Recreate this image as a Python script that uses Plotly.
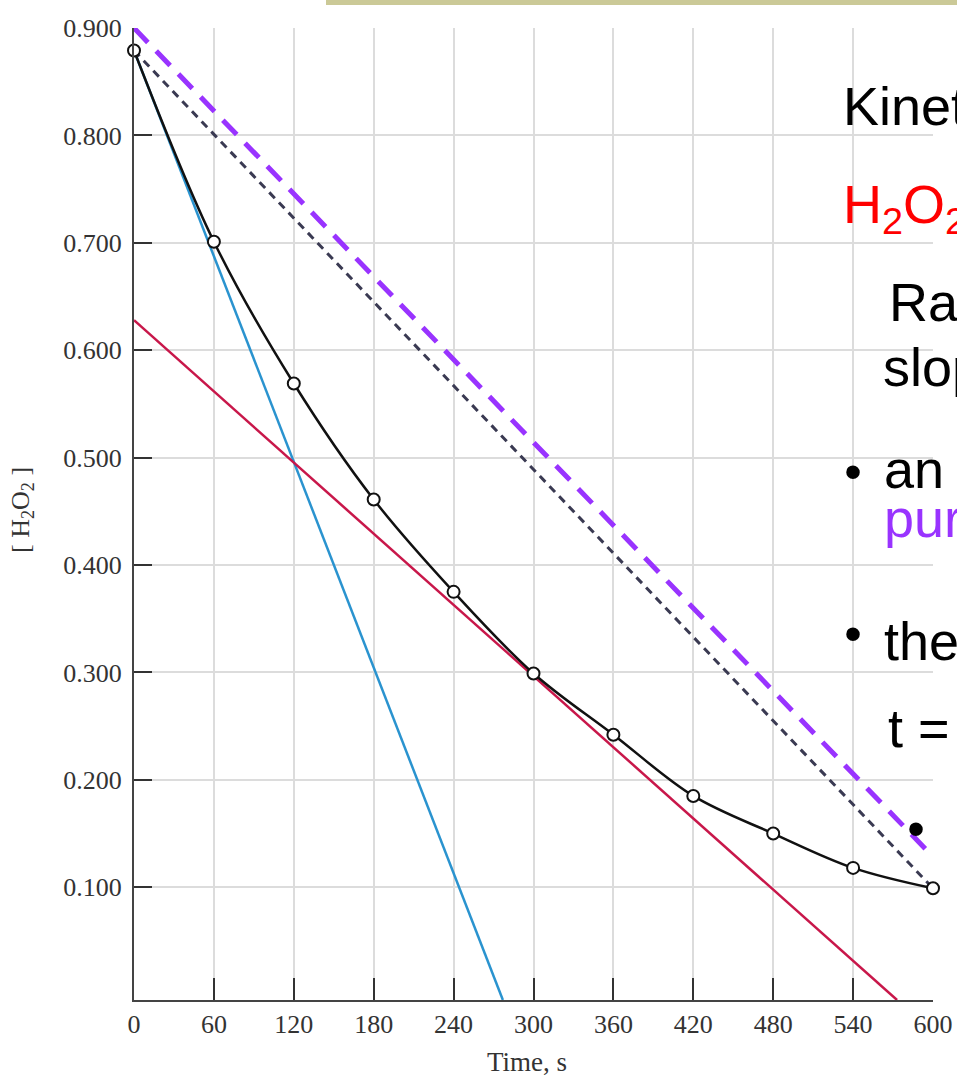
import plotly.graph_objects as go

# ---- data ----
time_s = [0, 60, 120, 180, 240, 300, 360, 420, 480, 540, 600]
conc_h2o2 = [0.879, 0.701, 0.569, 0.461, 0.375, 0.299, 0.242, 0.185, 0.150, 0.118, 0.099]

tan0_t = [0, 277]          # tangent at t = 0 (blue)
tan0_c = [0.879, -0.005]
tan300_t = [0, 573]        # tangent at t = 300 s (red)
tan300_c = [0.628, -0.005]
avg_t = [0, 600]           # average-rate chord (dark dashed)
avg_c = [0.879, 0.099]
purple_t = [0, 598]        # parallel purple dashed line
purple_c = [0.900, 0.131]

x_ticks = [0, 60, 120, 180, 240, 300, 360, 420, 480, 540, 600]
y_ticks = [0.1, 0.2, 0.3, 0.4, 0.5, 0.6, 0.7, 0.8, 0.9]
y_tick_text = ["0.100", "0.200", "0.300", "0.400", "0.500", "0.600", "0.700", "0.800", "0.900"]

# slide text (cropped at the right edge of the picture)
slide_text = ["Kinetics", "H<sub>2</sub>O<sub>2</sub>", "Rate", "slope", "an", "purple", "the", "t ="]
slide_colors = ["black", "#ff0000", "black", "black", "black", "#9933ff", "black", "black"]

W, H = 957, 1078
PL, PR, PT, PB = 134, 933, 28, 1000   # plot area in pixels

fig = go.Figure()
fig.add_trace(go.Scatter(x=tan0_t, y=tan0_c, mode="lines",
                         line=dict(color="#2a93cf", width=2.5), hoverinfo="skip"))
fig.add_trace(go.Scatter(x=tan300_t, y=tan300_c, mode="lines",
                         line=dict(color="#c8174a", width=2.5), hoverinfo="skip"))
fig.add_trace(go.Scatter(x=avg_t, y=avg_c, mode="lines",
                         line=dict(color="#3a3a52", width=3, dash="8px,6px"), hoverinfo="skip"))
fig.add_trace(go.Scatter(x=purple_t, y=purple_c, mode="lines",
                         line=dict(color="#9933ff", width=5, dash="20px,12px"), hoverinfo="skip"))
fig.add_trace(go.Scatter(x=time_s, y=conc_h2o2, mode="lines+markers",
                         line=dict(color="#111111", width=2.5, shape="spline", smoothing=1.0),
                         marker=dict(size=12, color="white", line=dict(color="#111111", width=2)),
                         cliponaxis=False))

# overlay "page" axes in pixel units for the slide text
text_x = [843, 843, 889, 883, 884, 884, 884, 888]
text_y = [111, 209, 307, 372, 474, 523, 646, 733]
for txt, x, y, col in zip(slide_text, text_x, text_y, slide_colors):
    fig.add_trace(go.Scatter(x=[x], y=[y], mode="text", text=[txt],
                             textposition="middle right",
                             textfont=dict(family="Liberation Sans", size=54, color=col),
                             xaxis="x2", yaxis="y2", hoverinfo="skip", cliponaxis=True))
fig.add_trace(go.Scatter(x=[853, 853, 916], y=[476, 638, 833], mode="text", text=["•", "•", "•"],
                         textposition="middle center",
                         textfont=dict(family="Liberation Sans", size=50, color="black"),
                         xaxis="x2", yaxis="y2", hoverinfo="skip", cliponaxis=True))

axis_font = dict(family="Liberation Serif", size=26, color="#333333")
fig.update_layout(
    xaxis=dict(domain=[PL / W, PR / W], range=[0, 600], tickvals=x_ticks,
               ticktext=[str(v) for v in x_ticks],
               ticks="inside", ticklen=22, tickwidth=2, tickcolor="#333333",
               showline=True, linecolor="#444444", linewidth=2,
               showgrid=True, gridcolor="#dcdcdc", gridwidth=1.5,
               zeroline=False, tickfont=axis_font, ticklabelstandoff=0,
               automargin=False, anchor="y"),
    yaxis=dict(domain=[(H - PB) / H, (H - PT) / H], range=[-0.005, 0.9], tickvals=y_ticks,
               ticktext=y_tick_text,
               ticks="inside", ticklen=18, tickwidth=2, tickcolor="#333333",
               showline=True, linecolor="#444444", linewidth=2,
               showgrid=True, gridcolor="#dcdcdc", gridwidth=1.5,
               zeroline=False, tickfont=axis_font, ticklabelstandoff=5,
               automargin=False, anchor="x"),
    xaxis2=dict(domain=[0, 1], range=[0, W], visible=False, anchor="y2", automargin=False),
    yaxis2=dict(domain=[0, 1], range=[H, 0], visible=False, anchor="x2", automargin=False),
    width=W, height=H,
    margin=dict(l=0, r=0, t=0, b=0),
    paper_bgcolor="white", plot_bgcolor="rgba(0,0,0,0)",
    showlegend=False,
    annotations=[
        dict(x=527, y=1062, xref="x2", yref="y2", text="Time, s", showarrow=False,
             font=dict(family="Liberation Serif", size=27, color="#333333"),
             xanchor="center", yanchor="middle"),
        dict(x=22, y=510, xref="x2", yref="y2", text="[ H<sub>2</sub>O<sub>2</sub> ]",
             showarrow=False, textangle=-90,
             font=dict(family="Liberation Serif", size=26, color="#333333"),
             xanchor="center", yanchor="middle"),
    ],
    shapes=[dict(type="rect", xref="x2", yref="y2", x0=326, x1=957, y0=0, y1=5,
                 fillcolor="#cbc997", line=dict(width=0), layer="above")],
)

fig.write_html("out.html", config={"displayModeBar": False},
               post_script="document.body.style.margin='0';document.body.style.overflow='hidden';")
